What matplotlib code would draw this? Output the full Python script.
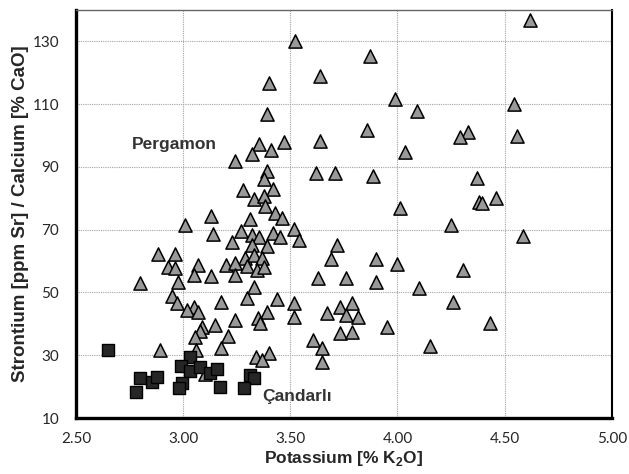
import matplotlib
matplotlib.use("Agg")
import matplotlib.pyplot as plt

plt.rcParams["mathtext.fontset"] = "custom"
plt.rcParams["mathtext.rm"] = "Liberation Sans:bold"
plt.rcParams["mathtext.bf"] = "Liberation Sans:bold"

# Pergamon (triangles): potassium [% K2O], Sr/Ca
perg_k = [4.62, 3.52, 3.87, 3.64, 3.40, 3.99, 4.545, 4.09, 3.39, 3.86, 4.33, 4.29, 4.56,
          3.64, 3.47, 3.355, 3.41, 3.32, 4.035, 3.24, 3.39, 3.62, 3.71, 3.885, 4.37, 3.375,
          3.28, 3.42, 3.33, 3.375, 3.38, 4.01, 4.38, 4.395, 4.46, 3.43,
          3.13, 3.46, 3.31, 3.01, 4.25, 3.515, 3.27, 3.14, 3.32, 3.355, 3.42, 3.45, 4.585,
          3.54, 3.23, 3.32, 3.39, 3.72,
          2.885, 2.96, 3.29, 3.33, 3.37, 3.69, 3.90, 4.00, 3.07, 3.20, 3.24, 2.93, 2.96,
          3.30, 3.345, 3.375, 4.305, 3.05, 3.13, 3.24, 3.76, 3.63, 2.975, 2.80, 3.90, 3.33, 4.10,
          2.95, 3.30, 3.44, 3.175, 2.97, 3.515, 4.26, 3.79, 3.73, 3.05, 3.02, 3.07, 3.39,
          3.67, 3.76, 3.815, 3.515, 3.35, 3.24, 3.36, 4.43,
          3.15, 3.09, 3.08, 3.95, 3.73, 3.79, 3.21, 3.055, 3.605, 4.15, 3.175, 2.89, 3.06,
          3.65, 3.40, 3.34, 3.37, 3.65, 3.10]
perg_sr = [136.7, 130.0, 125.3, 119.0, 116.8, 111.6, 109.9, 107.7, 107.0, 101.9, 101.0, 99.4, 99.8,
           98.4, 97.8, 97.4, 95.5, 94.0, 94.6, 91.8, 88.8, 88.1, 88.1, 87.2, 86.5, 86.3,
           82.5, 83.0, 79.8, 80.6, 77.5, 77.0, 78.9, 78.5, 80.0, 75.2,
           74.4, 73.8, 73.3, 71.5, 71.5, 70.2, 69.6, 68.5, 68.3, 67.7, 68.8, 67.6, 68.0,
           66.7, 66.1, 65.1, 64.8, 65.0,
           62.4, 62.4, 60.9, 61.9, 60.9, 60.6, 60.6, 59.0, 58.7, 58.7, 59.3, 58.0, 57.7,
           58.3, 57.1, 58.0, 57.1, 55.5, 55.2, 55.5, 54.7, 54.5, 53.4, 53.1, 53.4, 51.9, 51.3,
           48.8, 48.3, 48.0, 47.1, 46.5, 46.8, 47.0, 46.5, 45.4, 45.4, 44.4, 43.9, 43.9,
           43.4, 42.8, 42.3, 42.3, 41.8, 41.3, 40.3, 40.3,
           39.6, 39.0, 37.8, 39.0, 37.0, 37.4, 36.2, 35.9, 34.8, 33.0, 32.2, 31.8, 31.8,
           32.2, 30.6, 29.3, 28.4, 27.9, 24.0]

# Candarli (squares)
cand_k = [2.65, 2.80, 2.78, 2.855, 2.88, 3.03, 2.99, 3.03, 3.08, 3.125, 3.16, 2.995, 2.98,
          3.17, 3.31, 3.33, 3.285]
cand_sr = [31.7, 22.6, 18.4, 21.6, 23.0, 29.5, 26.6, 25.0, 26.3, 24.2, 25.5, 21.2, 19.5,
           19.8, 23.7, 22.6, 19.5]

x_ticks = [2.5, 3.0, 3.5, 4.0, 4.5, 5.0]
x_ticklabels = ["2.50", "3.00", "3.50", "4.00", "4.50", "5.00"]
y_ticks = [10, 30, 50, 70, 90, 110, 130]

fig = plt.figure(figsize=(6.29, 4.74), dpi=100)
ax = fig.add_axes([0.1208, 0.1181, 0.8518, 0.8608])

ax.scatter(perg_k, perg_sr, marker="^", s=90, facecolor="#999999", edgecolor="black",
           linewidth=1.1, zorder=3)
ax.scatter(cand_k, cand_sr, marker="s", s=85, facecolor="#262626", edgecolor="black",
           linewidth=1.0, zorder=4)

ax.set_xlim(2.5, 5.0)
ax.set_ylim(10, 140)
ax.set_xticks(x_ticks)
ax.set_xticklabels(x_ticklabels)
ax.set_yticks(y_ticks)
ax.tick_params(axis="both", length=0, labelsize=11, labelcolor="#262626")
ax.tick_params(axis="x", pad=10)
ax.tick_params(axis="y", pad=12)
for lab in ax.get_xticklabels() + ax.get_yticklabels():
    lab.set_family("Lato")

ax.grid(True, linestyle=(0, (1, 1)), color="#a3a3a3", linewidth=0.8, zorder=0)
ax.set_axisbelow(True)

ax.spines["left"].set_linewidth(2.4)
ax.spines["bottom"].set_linewidth(2.4)
ax.spines["right"].set_linewidth(1.5)
ax.spines["top"].set_linewidth(1.0)
ax.spines["top"].set_color("#666666")

ax.set_xlabel("Potassium [% K$_2$O]", fontsize=12.5, fontweight="bold", family="Liberation Sans",
              color="#262626", labelpad=2)
ax.set_ylabel("Strontium [ppm Sr] / Calcium [% CaO]", fontsize=13.5, fontweight="bold",
              family="Liberation Sans", color="#262626", labelpad=3)

ax.text(2.96, 97.3, "Pergamon", fontsize=12.5, fontweight="bold", family="Liberation Sans",
        color="#333333", ha="center", va="center")
ax.text(3.53, 17.0, "Çandarlı", fontsize=12.5, fontweight="bold", family="Liberation Sans",
        color="#333333", ha="center", va="center")

fig.savefig("out.png", dpi=100)
